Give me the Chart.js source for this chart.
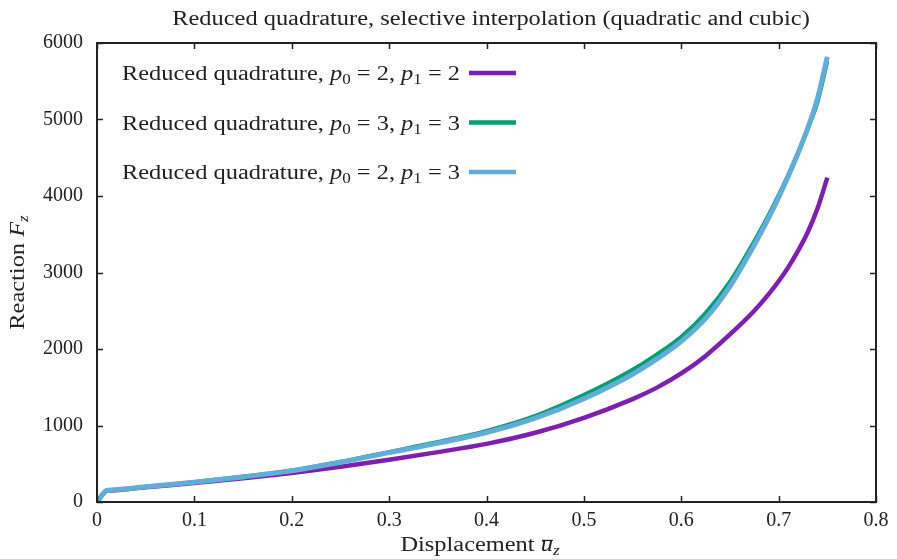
<!DOCTYPE html>
<html lang="en">
<head>
    <meta charset="UTF-8">
    <title>Reduced quadrature, selective interpolation</title>
    <script src="https://cdn.jsdelivr.net/npm/chart.js"></script>
    <style>
        html, body { margin: 0; padding: 0; background: #fff; }
        #wrap { width: 897px; height: 559px; }
    </style>
</head>
<body>
    <div id="wrap">
        <canvas id="reactionChart" width="897" height="559"></canvas>
    </div>

    <script>
        // displacement u_z (shared by the three runs)
        const displacement = [0, 0.01, 0.015, 0.05, 0.1, 0.15, 0.2, 0.25, 0.3, 0.35, 0.4, 0.45, 0.5, 0.55, 0.575, 0.6, 0.625, 0.65, 0.675, 0.69, 0.7, 0.71, 0.72, 0.73, 0.74, 0.75];
        // reaction F_z
        const reactionP22 = [0, 145, 151, 192, 248, 310, 380, 462, 553, 652, 760, 905, 1100, 1345, 1495, 1680, 1910, 2190, 2500, 2720, 2885, 3070, 3285, 3530, 3840, 4240];
        const reactionP33 = [0, 150, 156, 198, 260, 332, 412, 525, 655, 785, 930, 1125, 1400, 1730, 1930, 2160, 2470, 2880, 3410, 3760, 4010, 4280, 4570, 4880, 5230, 5760];
        const reactionP23 = [0, 150, 156, 198, 258, 328, 408, 520, 645, 770, 908, 1095, 1350, 1670, 1870, 2100, 2400, 2820, 3360, 3720, 3980, 4260, 4560, 4890, 5280, 5820];

        const xTicks = [0, 0.1, 0.2, 0.3, 0.4, 0.5, 0.6, 0.7, 0.8];
        const yTicks = [0, 1000, 2000, 3000, 4000, 5000, 6000];

        const FONT = '"Liberation Serif", "DejaVu Serif", serif';
        const FS = 20;
        const STRETCH = 1.22;   // widen the Times-like glyphs a bit

        function pts(ys) {
            return displacement.map((x, i) => ({ x: x, y: ys[i] }));
        }

        // text with p_0 / F_z style subscripts: parts = [[text, style, deco]]
        function drawRich(ctx, parts, x, y, align) {
            const fontFor = s => s === 'i' ? 'italic ' + FS + 'px ' + FONT
                : s === 'sub' ? (FS * 0.7) + 'px ' + FONT
                : s === 'isub' ? 'italic ' + (FS * 0.7) + 'px ' + FONT
                : FS + 'px ' + FONT;
            let w = 0;
            parts.forEach(p => { ctx.font = fontFor(p[1]); w += ctx.measureText(p[0]).width; });
            const sw = w * STRETCH;
            const x0 = align === 'right' ? x - sw : align === 'center' ? x - sw / 2 : x;
            ctx.save();
            ctx.translate(x0, y);
            ctx.scale(STRETCH, 1);
            ctx.textAlign = 'left';
            ctx.textBaseline = 'alphabetic';
            let cx = 0;
            parts.forEach(p => {
                ctx.font = fontFor(p[1]);
                const dy = (p[1] === 'sub' || p[1] === 'isub') ? FS * 0.22 : 0;
                const bw = ctx.measureText(p[0]).width;
                ctx.fillText(p[0], cx, dy);
                if (p[2] === 'bar') {
                    ctx.fillRect(cx + 1, -FS * 0.56, bw - 1, 1.2);
                }
                cx += bw;
            });
            ctx.restore();
            return sw;
        }

        const legendRows = [
            { parts: [['Reduced quadrature, ', 'n'], ['p', 'i'], ['0', 'sub'], [' = 2, ', 'n'], ['p', 'i'], ['1', 'sub'], [' = 2', 'n']], color: '#7e1fb0' },
            { parts: [['Reduced quadrature, ', 'n'], ['p', 'i'], ['0', 'sub'], [' = 3, ', 'n'], ['p', 'i'], ['1', 'sub'], [' = 3', 'n']], color: '#009e73' },
            { parts: [['Reduced quadrature, ', 'n'], ['p', 'i'], ['0', 'sub'], [' = 2, ', 'n'], ['p', 'i'], ['1', 'sub'], [' = 3', 'n']], color: '#62acd8' }
        ];

        const framePlugin = {
            id: 'frame',
            afterDatasetsDraw(chart) {
                const ctx = chart.ctx;
                const a = chart.chartArea;
                const xs = chart.scales.x, ys = chart.scales.y;
                ctx.save();
                ctx.strokeStyle = '#222';
                ctx.lineWidth = 1.5;
                ctx.beginPath();
                xTicks.forEach(v => {
                    const px = Math.round(xs.getPixelForValue(v)) + 0.5;
                    ctx.moveTo(px, a.bottom); ctx.lineTo(px, a.bottom - 6);
                    ctx.moveTo(px, a.top); ctx.lineTo(px, a.top + 6);
                });
                yTicks.forEach(v => {
                    const py = Math.round(ys.getPixelForValue(v)) + 0.5;
                    ctx.moveTo(a.left, py); ctx.lineTo(a.left + 6, py);
                    ctx.moveTo(a.right, py); ctx.lineTo(a.right - 6, py);
                });
                ctx.stroke();
                ctx.lineWidth = 2;
                ctx.strokeRect(a.left, a.top, a.right - a.left, a.bottom - a.top);
                ctx.restore();
            },
            afterDraw(chart) {
                const ctx = chart.ctx;
                const a = chart.chartArea;
                ctx.save();
                ctx.fillStyle = '#222';

                // title
                drawRich(ctx, [['Reduced quadrature, selective interpolation (quadratic and cubic)', 'n']], 491, 25, 'center');

                // legend: text right-justified, sample line to the right
                legendRows.forEach((row, i) => {
                    const y = 73 + i * 49.5;
                    ctx.fillStyle = '#222';
                    drawRich(ctx, row.parts, 460, y + 7, 'right');
                    ctx.strokeStyle = row.color;
                    ctx.lineWidth = 4.5;
                    ctx.beginPath();
                    ctx.moveTo(469, y); ctx.lineTo(516, y);
                    ctx.stroke();
                });

                // axis titles
                ctx.fillStyle = '#222';
                drawRich(ctx, [['Displacement ', 'n'], ['u', 'i', 'bar'], ['z', 'isub']], 480, 551, 'center');
                ctx.translate(24, (a.top + a.bottom) / 2);
                ctx.rotate(-Math.PI / 2);
                drawRich(ctx, [['Reaction ', 'n'], ['F', 'i'], ['z', 'isub']], 0, 0, 'center');
                ctx.restore();
            }
        };

        new Chart(document.getElementById('reactionChart'), {
            type: 'line',
            data: {
                datasets: [
                    {
                        label: 'Reduced quadrature, p0 = 2, p1 = 2',
                        data: pts(reactionP22),
                        borderColor: '#7e1fb0',
                        borderWidth: 4.5,
                        order: 2
                    },
                    {
                        label: 'Reduced quadrature, p0 = 3, p1 = 3',
                        data: pts(reactionP33),
                        borderColor: '#009e73',
                        borderWidth: 4,
                        order: 1
                    },
                    {
                        label: 'Reduced quadrature, p0 = 2, p1 = 3',
                        data: pts(reactionP23),
                        borderColor: '#62acd8',
                        borderWidth: 5,
                        order: 0
                    }
                ]
            },
            options: {
                responsive: false,
                animation: false,
                layout: { padding: { top: 43, right: 21, left: 0, bottom: 0 } },
                elements: {
                    point: { radius: 0 },
                    line: { cubicInterpolationMode: 'monotone', borderCapStyle: 'butt', borderJoinStyle: 'round', fill: false }
                },
                plugins: {
                    legend: { display: false },
                    tooltip: { enabled: false }
                },
                scales: {
                    x: {
                        type: 'linear',
                        min: 0,
                        max: 0.8,
                        afterBuildTicks: s => { s.ticks = xTicks.map(v => ({ value: v })); },
                        afterFit: s => { s.height = 57; },
                        grid: { display: false, drawTicks: false },
                        border: { display: false },
                        ticks: {
                            color: '#222',
                            padding: 7,
                            maxRotation: 0,
                            font: { family: FONT, size: FS },
                            callback: v => String(Math.round(v * 10) / 10)
                        }
                    },
                    y: {
                        min: 0,
                        max: 6000,
                        afterBuildTicks: s => { s.ticks = yTicks.map(v => ({ value: v })); },
                        afterFit: s => { s.width = 97; },
                        grid: { display: false, drawTicks: false },
                        border: { display: false },
                        ticks: {
                            color: '#222',
                            padding: 14,
                            font: { family: FONT, size: FS },
                            callback: v => String(v)
                        }
                    }
                }
            },
            plugins: [framePlugin]
        });
    </script>
</body>
</html>
